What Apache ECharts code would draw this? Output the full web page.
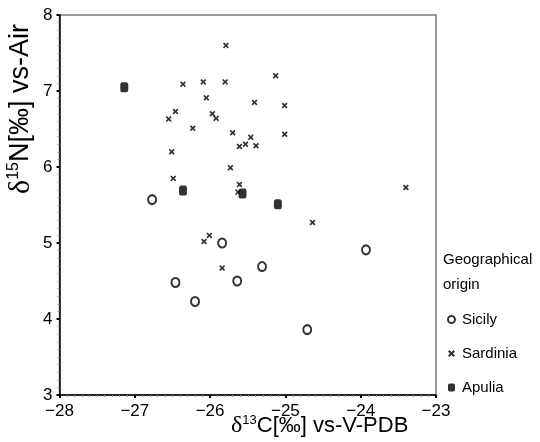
<!DOCTYPE html>
<html>
<head>
<meta charset="utf-8">
<script src="https://cdn.jsdelivr.net/npm/echarts@6/dist/echarts.min.js"></script>
<style>
  html, body { margin: 0; padding: 0; background: #fff; }
  #chart { width: 540px; height: 442px; }
</style>
</head>
<body>
<div id="chart"></div>
<script>
// 数据：[δ13C, δ15N]
const sicily = [
  [-26.77, 5.57], [-25.84, 5.00], [-26.46, 4.48], [-25.64, 4.50],
  [-26.20, 4.23], [-23.93, 4.91], [-25.31, 4.69], [-24.71, 3.86]
];
const sardinia = [
  [-25.79, 7.60], [-26.36, 7.09], [-26.09, 7.12], [-25.80, 7.12],
  [-26.05, 6.91], [-25.41, 6.85], [-26.46, 6.73], [-26.55, 6.63],
  [-25.97, 6.70], [-25.92, 6.64], [-26.23, 6.51], [-25.70, 6.45],
  [-25.46, 6.39], [-25.53, 6.30], [-25.61, 6.27], [-25.39, 6.28],
  [-26.51, 6.20], [-25.73, 5.99], [-26.49, 5.85], [-25.61, 5.77],
  [-25.63, 5.67], [-25.13, 7.20], [-25.01, 6.81], [-25.01, 6.43],
  [-23.40, 5.73], [-26.01, 5.10], [-26.08, 5.02], [-25.84, 4.67],
  [-24.64, 5.27]
];
const apulia = [
  [-27.14, 7.05], [-26.36, 5.69], [-25.57, 5.65], [-25.10, 5.51]
];
const groups = ['Sicily', 'Sardinia', 'Apulia'];

const font = 'Liberation Sans, Arial, sans-serif';
const crossPath = 'path://M0,2L2,0L5,3L8,0L10,2L7,5L10,8L8,10L5,7L2,10L0,8L3,5Z';

const chart = echarts.init(document.getElementById('chart'));

// 负号用 U+2212
const minus = v => String(v).replace('-', '\u2212');

const axisCommon = {
  axisLine: { show: true, onZero: false, lineStyle: { color: '#000', width: 1.5 } },
  axisTick: { show: true, length: 3, lineStyle: { color: '#000', width: 2 } },
  minorTick: { show: true, splitNumber: 10, length: 2, lineStyle: { color: '#999', width: 1 } },
  splitLine: { show: false },
  axisLabel: { color: '#000', fontSize: 17, fontFamily: font, formatter: minus }
};

const titleRich = {
  d: { fontFamily: 'Liberation Serif, serif', fontSize: 24, fill: '#000' },
  s: { fontFamily: font, fontSize: 13, fill: '#000', verticalAlign: 'top', padding: [0, 0, 10, 0] },
  t: { fontFamily: font, fontSize: 22, fill: '#000' }
};
const yTitleRich = {
  d: { fontFamily: 'Liberation Serif, serif', fontSize: 30, fill: '#000' },
  s: { fontFamily: font, fontSize: 16, fill: '#000', verticalAlign: 'top', padding: [0, 0, 12, 0] },
  t: { fontFamily: font, fontSize: 27, fill: '#000' }
};

chart.setOption({
  animation: false,
  backgroundColor: '#fff',
  grid: {
    left: 59.5, right: 104, top: 15, bottom: 47,
    show: true, borderColor: '#7a7a7a', borderWidth: 1.5
  },
  xAxis: Object.assign({}, axisCommon, {
    type: 'value', min: -28, max: -23, interval: 1,
    axisLabel: Object.assign({}, axisCommon.axisLabel, { margin: 8 })
  }),
  yAxis: Object.assign({}, axisCommon, {
    type: 'value', min: 3, max: 8, interval: 1,
    axisLabel: Object.assign({}, axisCommon.axisLabel, { margin: 7 })
  }),
  legend: {
    orient: 'vertical', left: 442, top: 307,
    itemWidth: 7, itemHeight: 8, itemGap: 19,
    data: groups,
    textStyle: { color: '#000', fontSize: 15, fontFamily: font, padding: [0, 0, 0, 2] }
  },
  graphic: [
    {
      type: 'text', left: 443, top: 247,
      style: { text: 'Geographical\norigin', fill: '#000', fontSize: 15, fontFamily: font, lineHeight: 25 }
    },
    {
      type: 'text', left: 231, top: 414,
      style: { text: '{d|δ}{s|13}{t|C[‰] vs-V-PDB}', rich: titleRich }
    },
    {
      type: 'text', x: 6, y: 194, rotation: Math.PI / 2,
      style: { text: '{d|δ}{s|15}{t|N[‰] vs-Air}', rich: yTitleRich }
    }
  ],
  series: [
    {
      name: 'Sicily', type: 'scatter', data: sicily,
      symbol: 'circle', symbolSize: [8, 9],
      itemStyle: { color: '#fff', borderColor: '#000', borderWidth: 2 }
    },
    {
      name: 'Sardinia', type: 'scatter', data: sardinia,
      symbol: crossPath, symbolSize: 6,
      itemStyle: { color: '#000' }
    },
    {
      name: 'Apulia', type: 'scatter', data: apulia,
      symbol: 'roundRect', symbolSize: [8, 10],
      itemStyle: { color: '#000' }
    }
  ]
});
</script>
</body>
</html>
